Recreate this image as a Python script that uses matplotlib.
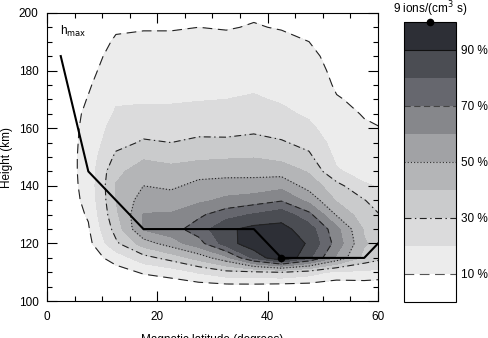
import numpy as np
import matplotlib

matplotlib.use("Agg")
import matplotlib.pyplot as plt
from matplotlib.colors import ListedColormap, BoundaryNorm

plt.rcParams["font.family"] = ["Liberation Sans", "DejaVu Sans"]
plt.rcParams["lines.scale_dashes"] = False

# grid of the production rate field, percent of the maximum
lat = [2.5, 7.5, 12.5, 17.5, 22.5, 27.5, 32.5, 37.5, 42.5, 47.5, 52.5, 57.5, 62.5]
height = [100, 105, 110, 115, 120, 125, 130, 135, 140, 145, 150,
          155, 160, 165, 170, 175, 180, 185, 190, 195, 200]
# one profile (bottom to top) per latitude column
rate_pct = [
    [0, 0, 0, 0, 1, 2, 3, 4, 4, 4, 4, 4, 4, 4, 3, 3, 2, 1, 1, 1, 1],
    [0, 1, 3, 5, 7, 9, 11, 12.5, 13.5, 14, 14, 13.5, 13, 12, 10.5, 9, 7.5, 6.5, 5.5, 4.5, 4],
    [0, 3, 6, 14, 28, 34, 38, 40, 40.5, 38, 32, 27, 24, 21, 19, 17, 15, 13, 11, 9, 8],
    [1, 3, 11, 26, 45, 61, 60.5, 55, 50, 44, 39, 31, 27, 22, 19, 17, 15, 13.5, 11.5, 9.5, 8],
    [1, 4, 14, 34, 55, 66, 61, 55, 48, 43, 37, 30, 26, 22, 19, 17, 15, 13.5, 11.5, 9.5, 8],
    [1, 5, 21, 44, 66, 75, 68, 58, 53, 46, 38, 32, 27, 23, 19.5, 17, 15.5, 14, 12, 10, 8.5],
    [1, 6, 27, 57, 85, 88, 76, 62, 55, 46, 39, 31.5, 27.5, 23.5, 20, 17.5, 16, 14, 12, 9.5, 8.5],
    [1, 6, 28, 82, 97, 93, 81, 65, 54, 47, 39.5, 33, 28, 24, 21, 18.5, 16.5, 15, 13, 10.5, 9],
    [1, 5, 30, 100, 96, 93, 86, 69, 57, 46, 37, 31, 26, 22, 19, 17.5, 15.5, 14, 12, 9.5, 8],
    [1, 5, 25, 82, 89, 85, 73, 57, 46, 39, 32, 27, 22, 18.5, 16.5, 15, 13.5, 12, 10, 8, 7],
    [1, 4, 17, 58, 66, 63, 49, 39, 33.5, 21, 18, 16, 14.5, 12.5, 10.5, 9, 8, 7, 6, 5, 4],
    [1, 4, 18, 37, 41, 39, 34, 30.5, 21, 17, 14.5, 12.5, 11, 9.5, 8.5, 7.5, 6.5, 5.5, 5, 4, 3.5],
    [1, 4, 15, 30, 33, 31, 27, 20, 18, 15, 13, 11, 9.5, 8, 7, 6, 5.5, 5, 4, 3.5, 3],
]

# height of the maximum
hmax_lat = [2.5, 7.5, 17.5, 37.5, 42.5, 57.5, 60]
hmax_height = [185, 145, 125, 125, 115, 115, 120]
peak_lat, peak_height = 42.5, 115

fill_levels = list(range(0, 101, 10))
line_levels = [10, 30, 50, 70, 90]
cbar_ticks = [10, 30, 50, 70, 90]

grays = ["#ffffff", "#ececec", "#dbdbdc", "#cacbcc", "#b4b5b7",
         "#a1a2a5", "#86878b", "#66676e", "#4b4d53", "#2d2f36"]
line_styles = [(0, (7, 4)), (0, (5, 2.5, 1, 2.5)), (0, (0.8, 1.5)), (0, (4.5, 2.5)), "solid"]
line_color = "#222222"
cbar_line_colors = ["#555555", "#222222", "#333333", "#444444", "#111111"]

Z = np.array(rate_pct).T
cmap = ListedColormap(grays)
norm = BoundaryNorm(fill_levels, cmap.N)

fig = plt.figure(figsize=(4.89, 3.38), dpi=100)
ax = fig.add_axes([0.096, 0.109, 0.677, 0.853])
cax = fig.add_axes([0.826, 0.107, 0.106, 0.828])

cf = ax.contourf(lat, height, Z, levels=fill_levels, cmap=cmap, norm=norm)
cs = ax.contour(lat, height, Z, levels=line_levels, colors=line_color,
                linewidths=0.8, linestyles=line_styles)

ax.plot(hmax_lat, hmax_height, color="black", lw=1.5)
ax.plot(peak_lat, peak_height, "o", color="black", ms=4.5)
ax.text(2.3, 193.5, r"h$_{\mathrm{max}}$", fontsize=8.5, va="center")

ax.set_xlim(0, 60)
ax.set_ylim(100, 200)
ax.set_xticks([0, 20, 40, 60])
ax.set_xticks(np.arange(0, 61, 5), minor=True)
ax.set_yticks([100, 120, 140, 160, 180, 200])
ax.set_yticks(np.arange(100, 201, 5), minor=True)
ax.tick_params(which="both", direction="in", top=True, right=True, labelsize=8.5, width=0.8)
ax.tick_params(which="major", length=7)
ax.tick_params(which="minor", length=3.6)
ax.tick_params(axis="x", pad=7)
ax.tick_params(axis="y", pad=6)
for s in ax.spines.values():
    s.set_linewidth(0.8)
ax.set_xlabel("Magnetic latitude (degrees)", fontsize=8.5, labelpad=8)
ax.set_ylabel("Height (km)", fontsize=8.5, labelpad=4)

cbar = fig.colorbar(cf, cax=cax, ticks=cbar_ticks)
cbar.ax.minorticks_off()
cbar.ax.set_yticklabels([f"{t} %" for t in cbar_ticks])
cbar.ax.tick_params(length=0, labelsize=8.5, pad=4)
cbar.outline.set_linewidth(0.8)
for lev, ls, c in zip(line_levels, line_styles, cbar_line_colors):
    cax.axhline(lev, color=c, lw=0.8, linestyle=ls)
cax.plot(0.5, 100, "o", color="black", ms=4.5, clip_on=False, zorder=5)
fig.text(393 / 489, 1 - 9 / 338, "9 ions/(cm$^3$ s)", fontsize=8.5, va="center", ha="left")

fig.savefig("out.png", dpi=100)
